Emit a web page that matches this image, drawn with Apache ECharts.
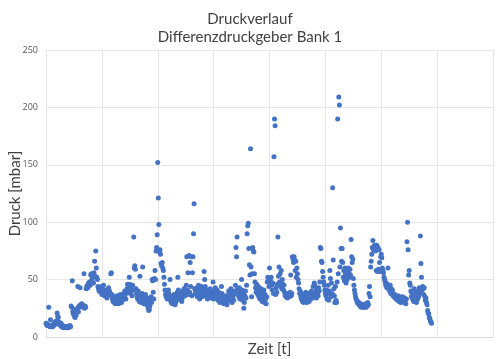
<!DOCTYPE html>
<html>
<head>
<meta charset="utf-8">
<script src="https://cdn.jsdelivr.net/npm/echarts@6/dist/echarts.min.js"></script>
<style>html,body{margin:0;padding:0;background:#fff;}#c{width:500px;height:359px;}</style>
</head>
<body>
<div id="c"></div>
<script>
// Titles and axis labels
const titleText = "Druckverlauf\nDifferenzdruckgeber Bank 1";
const yAxisName = "Druck [mbar]";
const xAxisName = "Zeit [t]";
const yTicks = [0, 50, 100, 150, 200, 250];

// Pressure values (mbar), one per time step
const druck = [
12,11,10,11,10,26,10,9,15,10,9,10,9,11,10,12,13,11,14,12,21,18,17,13,11,12,
10,12,9,9,10,8,9,9,8,9,9,8,9,9,8,9,9,10,9,
27,26,49,22,20,24,18,17,21,19,23,25,44,22,27,26,43,28,27,29,28,27,26,55,25,27,26,
42,44,45,43,47,46,48,45,54,55,50,48,52,47,56,66,53,75,60,52,50,44,42,40,43,41,39,44,37,
42,38,45,40,36,41,39,37,34,40,38,43,41,39,36,55,56,37,33,31,35,30,32,29,34,31,36,30,33,29,35,31,37,33,30,36,32,35,38,36,40,37,33,39,42,46,45,41,52,46,
38,43,40,36,45,41,87,60,62,59,42,38,35,33,40,37,31,53,36,30,34,38,61,32,29,35,31,37,33,28,34,30,25,23,24,27,32,35,30,50,49,39,33,51,58,50,75,78,89,152,121,98,74,76,72,
64,62,65,60,58,52,46,41,37,35,39,33,36,41,38,34,50,32,30,35,29,33,31,37,34,28,30,36,32,39,52,41,37,35,33,38,36,31,34,40,37,42,39,36,
38,45,70,41,56,37,71,39,65,44,70,36,56,70,90,116,42,38,40,
37,43,35,40,45,38,33,41,36,44,39,35,42,38,57,50,44,36,40,37,33,41,39,35,38,42,36,34,39,37,48,33,
40,36,43,38,34,41,37,32,39,35,30,36,33,44,38,31,35,29,34,32,30,36,33,28,31,35,40,37,33,38,42,36,30,34,39,32,37,40,45,78,70,87,42,38,35,43,33,39,36,50,
41,32,38,25,30,36,40,34,45,90,97,99,77,63,54,164,61,35,55,78,75,74,55,48,43,39,46,41,37,44,35,40,33,38,42,36,31,39,34,41,30,37,33,29,35,48,52,50,44,60,
50,48,52,45,41,47,38,157,190,184,37,43,39,46,87,53,61,48,55,44,58,42,50,46,41,45,39,36,38,35,37,34,38,36,35,37,39,54,36,38,70,68,65,70,67,58,66,52,60,55,
50,47,42,38,40,35,33,38,31,36,30,34,37,32,39,35,30,36,33,38,31,35,37,33,40,36,34,44,38,47,45,36,40,34,42,38,36,43,40,48,78,77,66,65,57,52,48,45,41,38,
36,41,33,38,45,32,40,58,51,35,47,38,130,67,42,36,30,44,32,30,48,190,55,209,202,61,95,77,66,77,65,52,58,49,60,55,47,53,50,58,60,56,52,59,54,85,70,65,68,51,
45,41,38,35,33,32,30,31,29,30,28,27,29,26,28,27,26,28,27,26,27,29,26,28,27,30,28,38,44,35,61,66,72,78,84,76,79,80,77,75,58,80,57,78,59,76,65,57,70,72,
69,60,58,56,52,50,48,45,47,43,46,60,42,44,40,45,38,42,39,41,36,38,35,37,34,36,33,35,32,36,34,31,35,33,30,34,32,35,31,33,30,34,32,29,33,83,100,76,54,58,
47,45,40,35,38,33,36,31,42,37,34,39,30,36,33,40,35,43,38,88,64,52,41,44,42,37,43,35,32,34,30,28,23,21,20,17,16,14,13,12
];

const points = druck.map((v, i) => [i, v]);

const chart = echarts.init(document.getElementById('c'), null, {renderer: 'canvas'});
chart.setOption({
  animation: false,
  backgroundColor: '#ffffff',
  title: {
    text: titleText,
    left: 'center',
    top: 5,
    textStyle: {fontFamily: 'Lato', fontSize: 15, fontWeight: 'normal', color: '#404040', lineHeight: 18}
  },
  grid: {left: 46, right: 7, top: 50, bottom: 22, containLabel: false, outerBoundsMode: 'none'},
  xAxis: {
    type: 'value',
    min: 0, max: 800, interval: 100,
    name: xAxisName,
    nameLocation: 'middle',
    nameGap: 5,
    nameMoveOverlap: false,
    nameTextStyle: {fontFamily: 'Lato', fontSize: 15, color: '#404040', verticalAlign: 'top'},
    axisLabel: {show: false},
    axisTick: {show: false},
    axisLine: {show: true, lineStyle: {color: '#d9d9d9'}},
    splitLine: {show: true, lineStyle: {color: '#e6e6e6', width: 1}}
  },
  yAxis: {
    type: 'value',
    min: yTicks[0], max: yTicks[yTicks.length - 1], interval: 50,
    name: yAxisName,
    nameLocation: 'middle',
    nameGap: 23,
    nameMoveOverlap: false,
    nameTextStyle: {fontFamily: 'Lato', fontSize: 15, color: '#404040'},
    axisLabel: {fontFamily: 'Open Sans', fontSize: 9, color: '#595959', margin: 8},
    axisTick: {show: false},
    axisLine: {show: false},
    splitLine: {show: true, lineStyle: {color: '#e6e6e6', width: 1}}
  },
  series: [{
    type: 'scatter',
    data: points,
    symbol: 'circle',
    symbolSize: 5,
    itemStyle: {color: '#4472C4', opacity: 1}
  }]
});
</script>
</body>
</html>
